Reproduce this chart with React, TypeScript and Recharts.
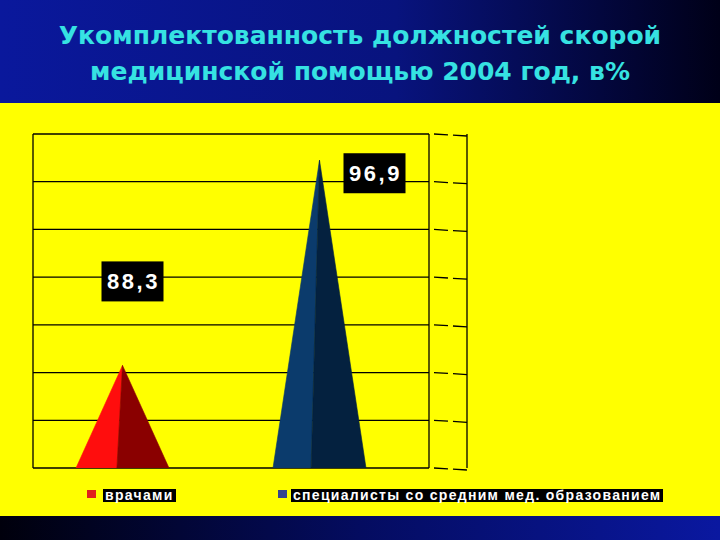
import React from "react";
import { BarChart, Bar, XAxis, YAxis, CartesianGrid, LabelList } from "recharts";

// Укомплектованность должностей СМП, 2004 год, %
const years = ["2004"];
const doctors = [88.3];
const nurses = [96.9];
const seriesNames = ["врачами", "специалисты со средним мед. образованием"];
const yTicks = [84, 86, 88, 90, 92, 94, 96, 98];

const data = years.map((year, i) => ({ year, doctors: doctors[i], nurses: nurses[i] }));

// depth of the 3D side wall on the right of the plot
const WALL = 38;

const SERIES = [
  { key: "doctors", light: "#ff0d0d", dark: "#8a0000", swatch: "#e0201c", split: 0.44, labelDx: 10, labelDy: -84, swatchX: 87, boxX: 103 },
  { key: "nurses", light: "#0b3b6c", dark: "#04213f", swatch: "#34448f", split: 0.41, labelDx: 55, labelDy: 13, swatchX: 278, boxX: 291 },
];

const Cone = (props: any) => {
  const { x, y, width, height, light, dark, split } = props;
  if (!width || !height) return null;
  const apexX = x + width / 2;
  const baseY = y + height;
  const splitX = x + width * split;
  return (
    <g>
      <polygon points={`${x},${baseY} ${splitX},${baseY} ${apexX},${y}`} fill={light} stroke={light} strokeWidth={0.6} />
      <polygon points={`${splitX},${baseY} ${x + width},${baseY} ${apexX},${y}`} fill={dark} stroke={dark} strokeWidth={0.6} />
    </g>
  );
};

const makeLabel = (dx: number, dy: number) => (p: any) => {
  const vb = p.viewBox ?? p;
  const cx = vb.x + vb.width / 2 + dx;
  const cy = vb.y + dy;
  const text = Number(p.value).toFixed(1).replace(".", ",");
  return (
    <g>
      <rect x={cx - 31} y={cy - 20} width={62} height={40} fill="#000" />
      <text
        x={cx + 1}
        y={cy + 8}
        textAnchor="middle"
        fill="#fff"
        fontFamily="'Liberation Sans', Arial, sans-serif"
        fontWeight="bold"
        fontSize={22}
        letterSpacing={2.5}
      >
        {text}
      </text>
    </g>
  );
};

const gridRow = (p: any) => {
  const front = p.x2 - WALL;
  return (
    <g key={p.key}>
      <line x1={p.x1} y1={p.y1} x2={front} y2={p.y1} stroke="#000" strokeWidth={1.3} />
      <line
        x1={front + 5}
        y1={p.y1}
        x2={p.x2}
        y2={p.y1 + 2}
        stroke="#000"
        strokeWidth={1.3}
        strokeDasharray="14 5"
      />
    </g>
  );
};

export default function App() {
  return (
    <div
      style={{
        position: "absolute",
        left: 0,
        top: 0,
        width: 720,
        height: 540,
        overflow: "hidden",
        background: "#ffff00",
        fontFamily: "'Liberation Sans', Arial, sans-serif",
      }}
    >
      <div
        style={{
          position: "absolute",
          left: 0,
          top: 0,
          width: 720,
          height: 103,
          background: "linear-gradient(90deg, #0a189c 0%, #08137e 55%, #000018 100%)",
        }}
      />
      <div
        style={{
          position: "absolute",
          left: 0,
          top: 516,
          width: 720,
          height: 24,
          background: "linear-gradient(90deg, #00000c 0%, #040c60 50%, #0a18a0 100%)",
        }}
      />
      <div
        style={{
          position: "absolute",
          left: 0,
          top: 18,
          width: 720,
          textAlign: "center",
          color: "#36e2e2",
          fontFamily: "'DejaVu Sans', Verdana, sans-serif",
          fontWeight: "bold",
          fontSize: 25,
          lineHeight: "36px",
        }}
      >
        Укомплектованность должностей скорой
        <br />
        медицинской помощью 2004 год, в%
      </div>

      <div style={{ position: "absolute", left: 0, top: 0 }}>
        <BarChart
          width={720}
          height={540}
          data={data}
          margin={{ top: 134, right: 253, bottom: 72, left: 33 }}
          barGap={104}
        >
          <CartesianGrid
            stroke="#000"
            strokeWidth={1.3}
            horizontal={gridRow}
            verticalCoordinatesGenerator={({ offset }: any) => [
              offset.left,
              offset.left + offset.width - WALL,
              offset.left + offset.width,
            ]}
          />
          <XAxis dataKey="year" hide padding={{ left: 0, right: 58 }} />
          <YAxis hide domain={[84, 98]} ticks={yTicks} allowDataOverflow />
          {SERIES.map((s, i) => (
            <Bar
              key={s.key}
              dataKey={s.key}
              name={seriesNames[i]}
              barSize={93}
              isAnimationActive={false}
              shape={(p: any) => <Cone {...p} light={s.light} dark={s.dark} split={s.split} />}
            >
              <LabelList dataKey={s.key} content={makeLabel(s.labelDx, s.labelDy)} />
            </Bar>
          ))}
        </BarChart>
      </div>

      {SERIES.map((s, i) => (
        <React.Fragment key={s.key}>
          <span
            style={{ position: "absolute", top: 490, left: s.swatchX, width: 9, height: 8, background: s.swatch }}
          />
          <span
            style={{
              position: "absolute",
              top: 489,
              left: s.boxX,
              background: "#000",
              color: "#fff",
              fontWeight: "bold",
              fontSize: 14,
              lineHeight: "13px",
              height: 13,
              padding: "0 2px",
              letterSpacing: 1.3,
              whiteSpace: "nowrap",
            }}
          >
            {seriesNames[i]}
          </span>
        </React.Fragment>
      ))}
    </div>
  );
}
